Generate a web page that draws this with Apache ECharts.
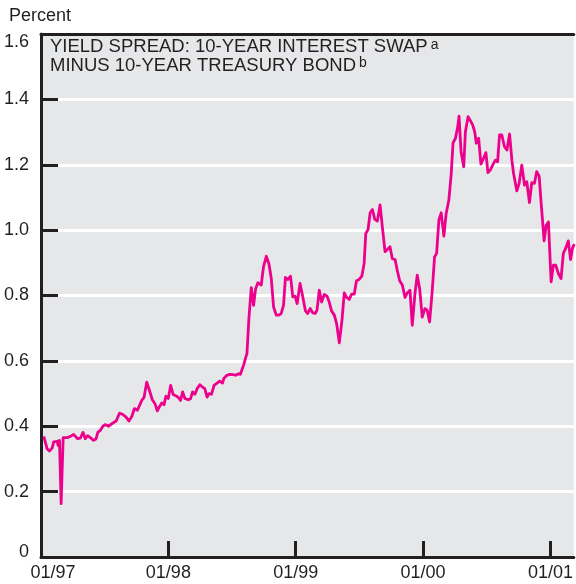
<!DOCTYPE html>
<html>
<head>
<meta charset="utf-8">
<script src="https://cdn.jsdelivr.net/npm/echarts@6/dist/echarts.min.js"></script>
<style>html,body{margin:0;padding:0;background:#fff;}#c{width:576px;height:584px;}</style>
</head>
<body>
<div id="c"></div>
<script>
// Decimal-year dates of the weekly observations
var dates = [
1997.022,1997.048,1997.066,1997.088,1997.100,1997.113,1997.127,1997.134,1997.145,1997.158,
1997.174,1997.205,1997.231,1997.256,1997.270,1997.288,1997.309,1997.330,1997.348,1997.366,
1997.387,1997.413,1997.432,1997.447,1997.465,1997.486,1997.504,1997.530,1997.543,1997.565,
1997.590,1997.616,1997.643,1997.668,1997.690,1997.713,1997.733,1997.757,1997.772,1997.791,
1997.809,1997.830,1997.851,1997.874,1997.895,1997.913,1997.929,1997.948,1997.966,1997.981,
1997.999,1998.018,1998.038,1998.065,1998.083,1998.096,1998.112,1998.130,1998.156,1998.174,
1998.190,1998.208,1998.226,1998.247,1998.268,1998.286,1998.304,1998.320,1998.339,1998.359,
1998.382,1998.403,1998.425,1998.435,1998.456,1998.482,1998.507,1998.529,1998.547,1998.565,
1998.578,1998.591,1998.607,1998.617,1998.633,1998.651,1998.669,1998.685,1998.703,1998.729,
1998.747,1998.769,1998.789,1998.808,1998.826,1998.847,1998.867,1998.886,1998.904,1998.919,
1998.937,1998.959,1998.977,1998.995,1999.011,1999.034,1999.055,1999.076,1999.094,1999.113,
1999.133,1999.154,1999.167,1999.185,1999.203,1999.224,1999.246,1999.263,1999.281,1999.303,
1999.321,1999.342,1999.363,1999.381,1999.399,1999.420,1999.438,1999.459,1999.477,1999.498,
1999.519,1999.537,1999.550,1999.568,1999.584,1999.602,1999.621,1999.641,1999.662,1999.680,
1999.701,1999.719,1999.740,1999.758,1999.780,1999.797,1999.816,1999.837,1999.858,1999.876,
1999.897,1999.915,1999.936,1999.954,1999.973,1999.993,2000.014,2000.032,2000.051,2000.071,
2000.090,2000.106,2000.124,2000.142,2000.163,2000.181,2000.202,2000.220,2000.235,2000.254,
2000.272,2000.282,2000.298,2000.319,2000.332,2000.353,2000.371,2000.389,2000.405,2000.418,
2000.436,2000.454,2000.475,2000.493,2000.509,2000.528,2000.546,2000.567,2000.585,2000.600,
2000.618,2000.639,2000.658,2000.679,2000.697,2000.710,2000.736,2000.754,2000.775,2000.796,
2000.814,2000.835,2000.853,2000.874,2000.892,2000.911,2000.927,2000.950,2000.966,2000.984,
2001.005,2001.023,2001.041,2001.062,2001.083,2001.101,2001.119,2001.140,2001.158,2001.172,
2001.187
];
// Spread, percent
var spread = [
0.369,0.331,0.324,0.334,0.352,0.347,0.354,0.341,0.357,0.163,
0.365,0.365,0.369,0.375,0.381,0.362,0.364,0.381,0.362,0.371,
0.365,0.357,0.361,0.382,0.387,0.400,0.405,0.400,0.398,0.410,
0.416,0.440,0.436,0.428,0.416,0.430,0.454,0.449,0.454,0.479,
0.488,0.535,0.510,0.481,0.469,0.447,0.459,0.471,0.466,0.492,
0.485,0.525,0.497,0.492,0.486,0.479,0.505,0.485,0.481,0.484,
0.505,0.498,0.515,0.527,0.520,0.515,0.489,0.500,0.498,0.525,
0.532,0.538,0.532,0.546,0.555,0.559,0.558,0.556,0.560,0.559,
0.553,0.587,0.610,0.622,0.734,0.824,0.770,0.821,0.839,0.832,
0.888,0.920,0.898,0.852,0.765,0.740,0.740,0.745,0.770,0.855,
0.849,0.859,0.796,0.798,0.775,0.837,0.796,0.753,0.745,0.760,
0.747,0.745,0.755,0.816,0.780,0.803,0.798,0.780,0.753,0.740,
0.714,0.655,0.724,0.808,0.794,0.788,0.804,0.804,0.845,0.849,
0.859,0.898,0.990,1.002,1.053,1.063,1.033,1.028,1.077,1.010,
0.934,0.941,0.949,0.913,0.910,0.877,0.845,0.832,0.794,0.808,
0.816,0.709,0.806,0.862,0.821,0.734,0.760,0.755,0.719,0.811,
0.918,0.929,1.031,1.053,0.982,1.051,1.092,1.168,1.267,1.281,
1.316,1.349,1.240,1.194,1.301,1.347,1.335,1.322,1.301,1.266,
1.281,1.202,1.220,1.237,1.176,1.184,1.199,1.214,1.209,1.291,
1.291,1.255,1.245,1.294,1.214,1.174,1.120,1.143,1.199,1.138,
1.148,1.084,1.145,1.143,1.179,1.165,1.082,0.967,1.015,1.025,
0.842,0.893,0.893,0.867,0.852,0.929,0.944,0.967,0.910,0.944,
0.957
];
var yTicks = [0, 0.2, 0.4, 0.6, 0.8, 1.0, 1.2, 1.4, 1.6];
var xTickYears = [1997, 1998, 1999, 2000, 2001];
var titleLine1 = 'YIELD SPREAD: 10-YEAR INTEREST SWAP';
var titleLine2 = 'MINUS 10-YEAR TREASURY BOND';
var unitLabel = 'Percent';

var DARK = '#231f20';
var NARROW = "'Liberation Sans Narrow', 'Liberation Sans', sans-serif";
var REG = "'Liberation Sans', Arial, sans-serif";
var seriesData = dates.map(function (d, i) { return [d, spread[i]]; });

var chart = echarts.init(document.getElementById('c'), null, {renderer: 'canvas'});
chart.setOption({
  animation: false,
  backgroundColor: '#ffffff',
  title: [{
    text: unitLabel, left: 9, top: 7, padding: 0,
    textStyle: {fontFamily: NARROW, fontSize: 18, fontWeight: 'normal', color: DARK}
  }, {
    text: '{t|' + titleLine1 + '}{s|a}\n{t|' + titleLine2 + '}{s|b}',
    left: 50, top: 38, padding: 0,
    textStyle: {
      fontWeight: 'normal', fontFamily: REG, fontSize: 18.5, color: DARK,
      rich: {
        t: {fontFamily: REG, fontSize: 18.5, fontWeight: 'normal', color: DARK, lineHeight: 18.5},
        s: {fontFamily: REG, fontSize: 14, fontWeight: 'normal', color: DARK, lineHeight: 18.5, verticalAlign: 'top', padding: [0, 0, 8, 3]}
      }
    }
  }],
  grid: {left: 41, right: 0, top: 34, bottom: 27, show: true, backgroundColor: '#e6e7e8', borderWidth: 0},
  xAxis: [{
    type: 'value', min: 1997, max: 2001.183, interval: 1,
    axisLine: {show: true, onZero: false, lineStyle: {color: DARK, width: 3}},
    axisTick: {show: true, inside: true, length: 16, lineStyle: {color: DARK, width: 3},
      customValues: xTickYears},
    splitLine: {show: false},
    axisLabel: {
      margin: 7, fontFamily: NARROW, fontSize: 18, color: DARK,
      customValues: xTickYears,
      formatter: function (v) {
        var s = '01/' + String(Math.round(v)).slice(2);
        return Math.round(v) === 1997 ? '{f|' + s + '}' : s;
      },
      rich: {f: {fontFamily: NARROW, fontSize: 18, color: DARK, padding: [0, 0, 0, 24]}}
    }
  }, {
    type: 'value', position: 'top', min: 1997, max: 2001.183,
    axisLine: {show: true, onZero: false, lineStyle: {color: DARK, width: 3}},
    axisTick: {show: false}, axisLabel: {show: false}, splitLine: {show: false}
  }],
  yAxis: {
    type: 'value', min: 0, max: 1.6, interval: 0.2,
    axisLine: {show: true, onZero: false, lineStyle: {color: DARK, width: 3}},
    axisTick: {show: true, inside: true, length: 17, lineStyle: {color: DARK, width: 3}},
    splitLine: {show: true, lineStyle: {color: '#ffffff', width: 3}},
    axisLabel: {
      margin: 12, fontFamily: NARROW, fontSize: 18, color: DARK,
      formatter: function (v) {
        if (v === 0) return '{b|0}';
        if (Math.abs(v - 1.6) < 1e-9) return '{t|1.6}';
        return v.toFixed(1);
      },
      rich: {
        b: {fontFamily: NARROW, fontSize: 18, color: DARK, padding: [0, 0, 10, 0]},
        t: {fontFamily: NARROW, fontSize: 18, color: DARK, padding: [16, 0, 0, 0]}
      }
    }
  },
  series: [{
    type: 'line', data: seriesData, xAxisIndex: 0, symbol: 'none',
    lineStyle: {color: '#ec008c', width: 2.8, join: 'round'},
    clip: true, z: 3
  }]
});
</script>
</body>
</html>
